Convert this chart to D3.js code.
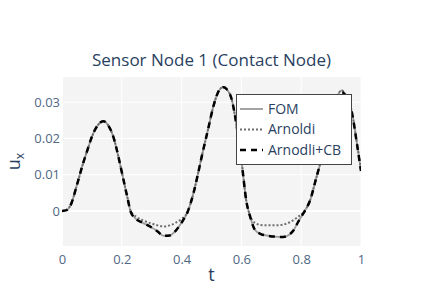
<!DOCTYPE html>
<html>
<head>
<meta charset="utf-8">
<script src="https://cdn.jsdelivr.net/npm/d3@7"></script>
<style>
  body { margin: 0; background: #fff; }
  text { font-family: "Open Sans", sans-serif; }
</style>
</head>
<body>
<svg id="canvas" width="423" height="308"></svg>
<script>
let tValues = [0, 0.015, 0.03, 0.05, 0.07, 0.085, 0.1, 0.12, 0.138, 0.155, 0.172, 0.19, 0.205, 0.218, 0.23,
  0.25, 0.27, 0.3, 0.32, 0.34, 0.36, 0.38, 0.4, 0.42, 0.44, 0.456, 0.47, 0.489, 0.505, 0.518, 0.53,
  0.54, 0.55, 0.567, 0.585, 0.6, 0.617, 0.63, 0.645, 0.665, 0.685, 0.71, 0.74, 0.76, 0.775, 0.79,
  0.807, 0.83, 0.85, 0.87, 0.9, 0.92, 0.935, 0.95, 0.97, 0.985, 1.0]

let fomValues = [0, 0.0002, 0.0018, 0.0072, 0.0130, 0.0168, 0.0205, 0.0237, 0.0248, 0.0236, 0.0204, 0.0145, 0.0088, 0.0040, -0.0003,
  -0.0024, -0.0033, -0.0046, -0.0057, -0.0069, -0.0068, -0.0055, -0.0032, -0.0003, 0.0050, 0.0107, 0.0160, 0.0227, 0.0285, 0.0320, 0.0338,
  0.0342, 0.0337, 0.0310, 0.0230, 0.0140, 0.0025, -0.0018, -0.0052, -0.0064, -0.0068, -0.0071, -0.0072, -0.0066, -0.0053, -0.0030,
  -0.0007, 0.0030, 0.0090, 0.0150, 0.0255, 0.0315, 0.0333, 0.0318, 0.0272, 0.0195, 0.0112]

let arnoldiValues = [0, 0.0002, 0.0018, 0.0072, 0.0130, 0.0168, 0.0205, 0.0237, 0.0248, 0.0236, 0.0204, 0.0145, 0.0088, 0.0040, 0.0000,
  -0.0017, -0.0026, -0.0035, -0.0040, -0.0043, -0.0040, -0.0033, -0.0022, -0.0003, 0.0050, 0.0107, 0.0160, 0.0227, 0.0285, 0.0320, 0.0338,
  0.0342, 0.0337, 0.0310, 0.0230, 0.0140, 0.0025, -0.0015, -0.0033, -0.0039, -0.0040, -0.0040, -0.0038, -0.0032, -0.0025, -0.0016,
  -0.0005, 0.0030, 0.0090, 0.0150, 0.0255, 0.0315, 0.0333, 0.0318, 0.0272, 0.0195, 0.0112]

let cbValues = [0, 0.0002, 0.0018, 0.0072, 0.0130, 0.0168, 0.0205, 0.0237, 0.0248, 0.0236, 0.0204, 0.0145, 0.0088, 0.0040, -0.0003,
  -0.0024, -0.0033, -0.0046, -0.0057, -0.0069, -0.0068, -0.0055, -0.0032, -0.0003, 0.0050, 0.0107, 0.0160, 0.0227, 0.0285, 0.0320, 0.0338,
  0.0342, 0.0337, 0.0310, 0.0230, 0.0140, 0.0025, -0.0018, -0.0052, -0.0064, -0.0068, -0.0071, -0.0072, -0.0066, -0.0053, -0.0030,
  -0.0007, 0.0030, 0.0090, 0.0150, 0.0255, 0.0312, 0.0329, 0.0316, 0.0270, 0.0193, 0.0110]

let seriesNames = ["FOM", "Arnoldi", "Arnodli+CB"]
let xTicks = [0, 0.2, 0.4, 0.6, 0.8, 1]
let yTicks = [0, 0.01, 0.02, 0.03]

let width = 423
let height = 308
let margin = { top: 77, right: 62, bottom: 62, left: 62 }

let canvas = d3.select("#canvas")

let xScale = d3.scaleLinear()
  .domain([0, 1])
  .range([margin.left, width - margin.right])

let yScale = d3.scaleLinear()
  .domain([-0.0097, 0.037])
  .range([height - margin.bottom, margin.top])

let textColor = "#2a3f5f"
let tickColor = "#506784"

// plot background
canvas.append("rect")
  .attr("x", margin.left)
  .attr("y", margin.top)
  .attr("width", width - margin.left - margin.right)
  .attr("height", height - margin.top - margin.bottom)
  .attr("fill", "#f4f4f4")

// grid
canvas.append("g")
  .selectAll("line")
  .data(xTicks)
  .enter()
  .append("line")
  .attr("x1", (d) => xScale(d))
  .attr("x2", (d) => xScale(d))
  .attr("y1", margin.top)
  .attr("y2", height - margin.bottom)
  .attr("stroke", "#fff")
  .attr("stroke-width", (d) => d === 0 ? 2 : 1)

canvas.append("g")
  .selectAll("line")
  .data(yTicks)
  .enter()
  .append("line")
  .attr("x1", margin.left)
  .attr("x2", width - margin.right)
  .attr("y1", (d) => yScale(d))
  .attr("y2", (d) => yScale(d))
  .attr("stroke", "#fff")
  .attr("stroke-width", (d) => d === 0 ? 2 : 1)

// axes (labels only)
let xAxis = d3.axisBottom(xScale)
  .tickValues(xTicks)
  .tickSize(0)
  .tickPadding(9)
  .tickFormat((d) => d3.format("~g")(d))

let yAxis = d3.axisLeft(yScale)
  .tickValues(yTicks)
  .tickSize(0)
  .tickPadding(2)
  .tickFormat((d) => d3.format("~g")(d))

let xg = canvas.append("g")
  .attr("transform", "translate(0," + (height - margin.bottom) + ")")
  .call(xAxis)
let yg = canvas.append("g")
  .attr("transform", "translate(" + margin.left + ",0)")
  .call(yAxis)

for (let g of [xg, yg]) {
  g.select(".domain").remove()
  g.selectAll("text")
    .attr("fill", tickColor)
    .style("font-size", "13px")
    .style("font-family", "'Open Sans', sans-serif")
}

// lines
let clip = canvas.append("clipPath").attr("id", "clip")
  .append("rect")
  .attr("x", margin.left)
  .attr("y", margin.top)
  .attr("width", width - margin.left - margin.right)
  .attr("height", height - margin.top - margin.bottom)

let lineStyles = [
  { color: "#9a9a9a", width: 1.8, dash: null },
  { color: "#6e6e6e", width: 2, dash: "2,2" },
  { color: "#000000", width: 2.5, dash: "6,5" }
]

let seriesValues = [fomValues, arnoldiValues, cbValues]

let line = d3.line()
  .x((d) => xScale(d[0]))
  .y((d) => yScale(d[1]))
  .curve(d3.curveMonotoneX)

let lines = canvas.append("g").attr("clip-path", "url(#clip)")
seriesValues.forEach((values, i) => {
  let points = tValues.map((t, j) => [t, values[j]])
  lines.append("path")
    .attr("d", line(points))
    .attr("fill", "none")
    .attr("stroke", lineStyles[i].color)
    .attr("stroke-width", lineStyles[i].width)
    .attr("stroke-dasharray", lineStyles[i].dash)
})

// legend
let legend = canvas.append("g").attr("transform", "translate(236,94)")
legend.append("rect")
  .attr("x", 0.5)
  .attr("y", 0.5)
  .attr("width", 115)
  .attr("height", 70)
  .attr("fill", "#fff")
  .attr("stroke", "#444")
  .attr("stroke-width", 1)

seriesNames.forEach((name, i) => {
  let yy = 15 + i * 20.5
  legend.append("line")
    .attr("x1", 4)
    .attr("x2", 27)
    .attr("y1", yy)
    .attr("y2", yy)
    .attr("stroke", lineStyles[i].color)
    .attr("stroke-width", lineStyles[i].width)
    .attr("stroke-dasharray", lineStyles[i].dash)
  legend.append("text")
    .attr("x", 32)
    .attr("y", yy)
    .attr("dy", "0.35em")
    .attr("fill", textColor)
    .style("font-size", "14px")
    .text(name)
})

// title
canvas.append("text")
  .attr("x", width / 2)
  .attr("y", 66)
  .attr("text-anchor", "middle")
  .attr("fill", textColor)
  .style("font-size", "17px")
  .text("Sensor Node 1 (Contact Node)")

// axis titles
canvas.append("text")
  .attr("x", xScale(0.5))
  .attr("y", 281)
  .attr("text-anchor", "middle")
  .attr("fill", textColor)
  .style("font-size", "18px")
  .text("t")

let yTitle = canvas.append("text")
  .attr("transform", "translate(20," + ((margin.top + height - margin.bottom) / 2) + ") rotate(-90)")
  .attr("text-anchor", "middle")
  .attr("fill", textColor)
  .style("font-size", "18px")
yTitle.append("tspan").text("u")
yTitle.append("tspan")
  .attr("dy", 4)
  .style("font-size", "12px")
  .text("x")
</script>
</body>
</html>
